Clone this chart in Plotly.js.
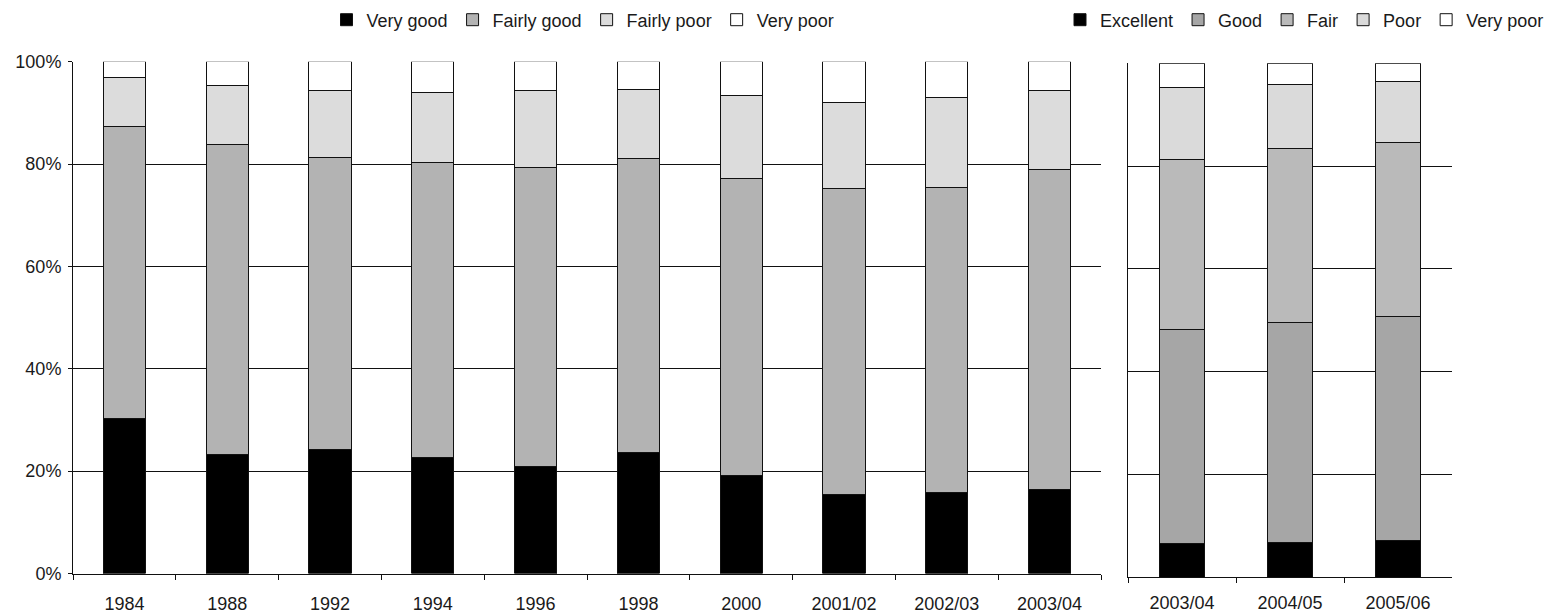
<!DOCTYPE html>
<html>
<head>
<meta charset="utf-8">
<script src="https://cdn.plot.ly/plotly-3.0.1.min.js"></script>
<style>html,body{margin:0;padding:0;background:#fff;overflow:hidden}#chart{width:1550px;height:616px}</style>
</head>
<body>
<div id="chart"></div>
<script>
// Left panel: survey years, four-point scale
const yearsA = ['1984','1988','1992','1994','1996','1998','2000','2001/02','2002/03','2003/04'];
const veryGood   = [30.3, 23.3, 24.3, 22.7, 21.0, 23.7, 19.1, 15.4, 15.8, 16.5];
const fairlyGood = [57.1, 60.6, 56.9, 57.6, 58.3, 57.3, 58.0, 59.9, 59.7, 62.5];
const fairlyPoor = [9.5, 11.4, 13.1, 13.6, 15.0, 13.6, 16.3, 16.7, 17.5, 15.3];
const veryPoorA  = [3.1, 4.7, 5.7, 6.1, 5.7, 5.4, 6.6, 8.0, 7.0, 5.7];

// Right panel: survey years, five-point scale
const yearsB = ['2003/04','2004/05','2005/06'];
const excellent = [6.6, 6.8, 7.2];
const good      = [41.6, 42.7, 43.6];
const fair      = [33.0, 34.0, 33.7];
const poor      = [14.0, 12.4, 12.0];
const veryPoorB = [4.8, 4.1, 3.5];

const namesA = ['Very good','Fairly good','Fairly poor','Very poor'];
const namesB = ['Excellent','Good','Fair','Poor','Very poor'];

const line = {color:'#111', width:1};
const W = 0.41;
function bar(x, y, name, color, xa, ya, leg){
  return {type:'bar', x:x, y:y, name:name, xaxis:xa, yaxis:ya, legend:leg, width:W,
          marker:{color:color, line:line}, hoverinfo:'x+y+name'};
}
const colA = ['#000000','#b3b3b3','#dcdcdc','#ffffff'];
const colB = ['#000000','#a6a6a6','#bababa','#dadada','#ffffff'];
const serA = [veryGood, fairlyGood, fairlyPoor, veryPoorA];
const serB = [excellent, good, fair, poor, veryPoorB];

const traces = [];
serA.forEach((s,i)=>traces.push(bar(yearsA, s, namesA[i], colA[i], 'x', 'y', 'legend')));
serB.forEach((s,i)=>traces.push(bar(yearsB, s, namesB[i], colB[i], 'x2', 'y2', 'legend2')));

const font = {family:'"Liberation Sans", Arial, sans-serif', size:18, color:'#1a1a1a'};
const xcommon = {type:'category', tickson:'boundaries', ticks:'outside', ticklen:5, tickcolor:'#111',
  showline:true, linecolor:'#111', linewidth:1, showgrid:false, fixedrange:true};
const ycommon = {range:[0,100], dtick:20, showgrid:true, gridcolor:'#111', gridwidth:1,
  showline:true, linecolor:'#111', linewidth:1, zeroline:false, fixedrange:true};

const layout = {
  width:1550, height:616, margin:{l:0,r:0,t:0,b:0,autoexpand:false},
  paper_bgcolor:'#fff', plot_bgcolor:'#fff', font:font,
  barmode:'stack', showlegend:true,
  xaxis: Object.assign({}, xcommon, {domain:[73/1550, 1101/1550], anchor:'y', ticklabelstandoff:14}),
  yaxis: Object.assign({}, ycommon, {domain:[42.5/616, 554.3/616], anchor:'x',
          ticks:'outside', ticklen:4, tickcolor:'#111', ticksuffix:'%', ticklabelstandoff:3}),
  xaxis2: Object.assign({}, xcommon, {domain:[1128/1550, 1452/1550], anchor:'y2', ticklabelstandoff:9}),
  yaxis2: Object.assign({}, ycommon, {domain:[39/616, 552.7/616], anchor:'x2',
          showticklabels:false, ticks:''}),
  legend: {orientation:'h', x:583/1550, xanchor:'center', y:1-20/616, yanchor:'middle',
           traceorder:'normal', font:font, bgcolor:'rgba(0,0,0,0)', itemclick:false, itemdoubleclick:false},
  legend2: {orientation:'h', x:1549/1550, xanchor:'right', y:1-20/616, yanchor:'middle',
           traceorder:'normal', font:font, bgcolor:'rgba(0,0,0,0)', itemclick:false, itemdoubleclick:false}
};

Plotly.newPlot('chart', traces, layout, {displayModeBar:false, staticPlot:true});
</script>
</body>
</html>
